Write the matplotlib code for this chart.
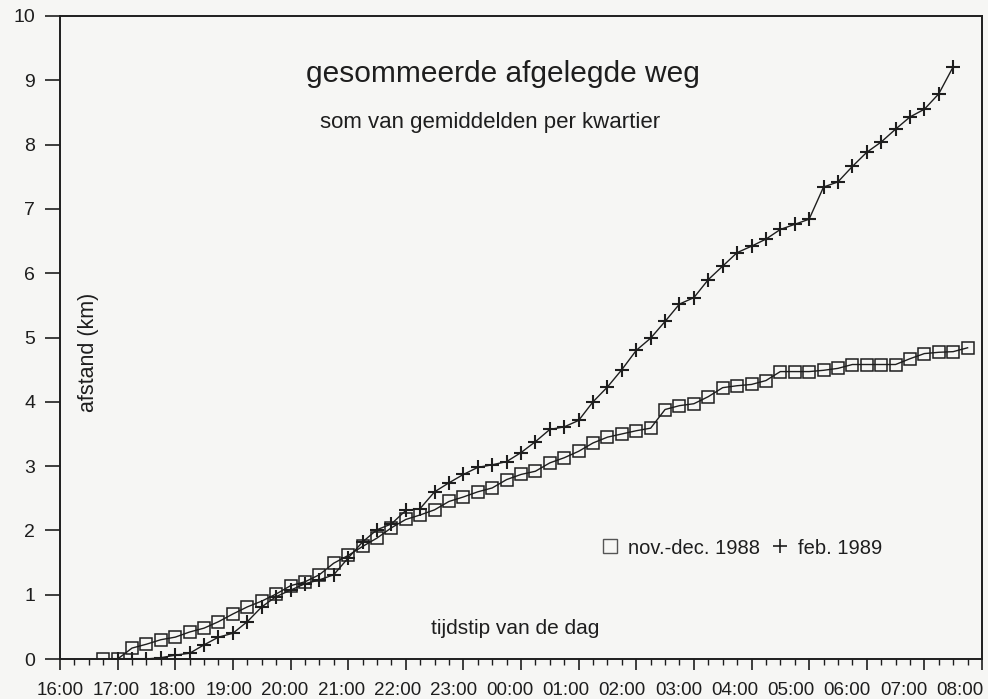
import numpy as np
import matplotlib
matplotlib.use("Agg")
import matplotlib.pyplot as plt
from matplotlib.lines import Line2D
from matplotlib.ticker import MultipleLocator
from matplotlib.transforms import ScaledTranslation

plt.rcParams['font.family'] = ['Liberation Sans', 'DejaVu Sans']

# ---- data -------------------------------------------------------------
tick_labels = ["16:00", "17:00", "18:00", "19:00", "20:00", "21:00", "22:00",
               "23:00", "00:00", "01:00", "02:00", "03:00", "04:00", "05:00",
               "06:00", "07:00", "08:00"]

# nov.-dec. 1988 (squares): one value per quarter hour, first at 16:45
nov_dec_start = "16:45"
nov_dec_1988 = [0.00, 0.00, 0.17, 0.23, 0.30, 0.34, 0.42, 0.48, 0.58, 0.70,
                0.81, 0.90, 1.01, 1.14, 1.20, 1.31, 1.49, 1.61, 1.75, 1.88,
                2.04, 2.17, 2.24, 2.32, 2.45, 2.52, 2.60, 2.66, 2.79, 2.87,
                2.92, 3.05, 3.13, 3.23, 3.36, 3.45, 3.50, 3.55, 3.59, 3.88,
                3.94, 3.97, 4.08, 4.22, 4.25, 4.27, 4.33, 4.47, 4.47, 4.47,
                4.49, 4.52, 4.58, 4.58, 4.58, 4.58, 4.67, 4.75, 4.77, 4.78,
                4.84]

# feb. 1989 (plus): one value per quarter hour, first at 17:00
feb_start = "17:00"
feb_1989 = [0.00, 0.00, 0.00, 0.02, 0.06, 0.09, 0.22, 0.34, 0.40, 0.58,
            0.81, 0.97, 1.07, 1.17, 1.23, 1.31, 1.57, 1.82, 2.01, 2.10,
            2.31, 2.34, 2.60, 2.74, 2.87, 2.98, 3.02, 3.07, 3.21, 3.38,
            3.57, 3.61, 3.71, 4.00, 4.23, 4.50, 4.80, 4.99, 5.25, 5.52,
            5.62, 5.90, 6.11, 6.32, 6.42, 6.53, 6.68, 6.76, 6.84, 7.34,
            7.42, 7.66, 7.88, 8.04, 8.24, 8.43, 8.55, 8.79, 9.21]


def hours_after_16(hhmm):
    h, m = map(int, hhmm.split(":"))
    return (h - 16) % 24 + m / 60.0


def quarter_times(start, n):
    return hours_after_16(start) + 0.25 * np.arange(n)


x_nd = quarter_times(nov_dec_start, len(nov_dec_1988))
x_fb = quarter_times(feb_start, len(feb_1989))

# ---- figure -----------------------------------------------------------
W, H = 988, 699
bg = '#f6f6f4'
ink = '#1e1e1e'
fig = plt.figure(figsize=(W / 100, H / 100), dpi=100, facecolor=bg)
ax = fig.add_axes([60 / W, 1 - 659 / H, 922 / W, 643 / H], facecolor=bg)

ax.plot(x_nd, nov_dec_1988, color=ink, lw=1.0, marker='s', ms=9.3,
        mfc='none', mec=ink, mew=1.1)
ax.plot(x_fb, feb_1989, color=ink, lw=1.0, marker='+', ms=10,
        mec=ink, mew=1.5)

ax.set_xlim(0, 16)
ax.set_ylim(0, 10)
ax.xaxis.set_major_locator(MultipleLocator(1))
ax.xaxis.set_minor_locator(MultipleLocator(0.25))
ax.yaxis.set_major_locator(MultipleLocator(1))
ax.tick_params(axis='x', which='major', direction='out', length=8, width=1.2,
               labelbottom=False, colors=ink)
ax.tick_params(axis='x', which='minor', direction='out', length=4.5, width=1.0,
               colors=ink)
ax.tick_params(axis='y', which='major', direction='out', length=11, width=1.2,
               pad=7, labelsize=14, colors=ink)
for sp in ax.spines.values():
    sp.set_linewidth(1.4)
    sp.set_color(ink)

# hour labels (the original plotter spaces them slightly tighter than the ticks)
xt = ax.get_xaxis_transform()
for k, lab in enumerate(tick_labels):
    off = ScaledTranslation(-(1.4 * k) / 100, -23 / 100, fig.dpi_scale_trans)
    ax.text(k, 0, lab, transform=xt + off, ha='center', va='top',
            fontsize=13.5, color=ink, clip_on=False)

ax.set_ylabel("afstand (km)", fontsize=15.5, color=ink)
ax.yaxis.set_label_coords((99 - 60) / 922, (659 - 352) / 643)

ax.text((515 - 60) / 922, (659 - 628) / 643, "tijdstip van de dag",
        transform=ax.transAxes, ha='center', va='center', fontsize=15, color=ink)

fig.text(503 / W, 1 - 82 / H, "gesommeerde afgelegde weg", ha='center',
         va='baseline', fontsize=21.5, color=ink)
fig.text(490 / W, 1 - 128 / H, "som van gemiddelden per kwartier",
         ha='center', va='baseline', fontsize=16, color=ink)

handles = [Line2D([], [], ls='none', marker='s', ms=10, mfc='none', mec='#555555', mew=1.0),
           Line2D([], [], ls='none', marker='+', ms=10, mec=ink, mew=1.2)]
ax.legend(handles, ["nov.-dec. 1988", "feb. 1989"], ncol=2, frameon=False,
          loc='center', bbox_to_anchor=((742 - 60) / 922, (659 - 548) / 643),
          fontsize=14.5, handlelength=0.8, handletextpad=0.5, columnspacing=0.6,
          labelcolor=ink)

fig.savefig("out.png", dpi=100, facecolor=bg)
